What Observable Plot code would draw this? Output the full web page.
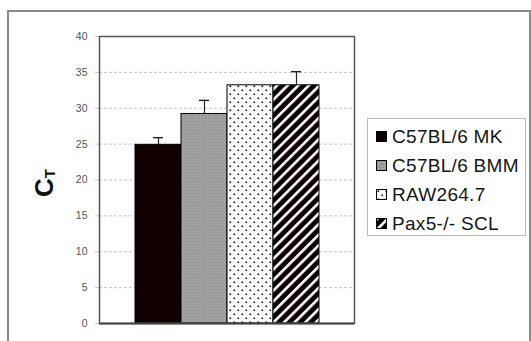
<!DOCTYPE html>
<html>
<head>
<meta charset="utf-8">
<script src="https://cdn.jsdelivr.net/npm/d3@7"></script>
<script src="https://cdn.jsdelivr.net/npm/@observablehq/plot@0.6"></script>
<style>
  html, body { margin: 0; padding: 0; background: #fff; }
  body { width: 531px; height: 341px; position: relative; overflow: hidden; font-family: "Liberation Sans", Arial, sans-serif; }
  #outer { position: absolute; left: 7px; top: 10px; width: 524px; height: 400px; border: 2px solid #8a8a8a; box-sizing: border-box; }
  #chart { position: absolute; left: 0; top: 0; }
  #legend { position: absolute; left: 367px; top: 118px; width: 159px; height: 118px; border: 1px solid #b8b8b8; box-sizing: border-box; padding: 3px 0 0 8px; background: #fff; overflow: hidden; }
  .item { height: 29px; line-height: 29px; font-size: 19px; color: #151515; white-space: nowrap; display: flex; align-items: center; }
  .item svg { width: 11px; height: 11px; margin-right: 5px; flex: none; }
</style>
</head>
<body>
<svg width="0" height="0" style="position:absolute">
  <defs>
    <pattern id="pGray" width="3" height="3" patternUnits="userSpaceOnUse">
      <rect width="3" height="3" fill="#a0a0a0"></rect>
      <rect x="1" y="1" width="1" height="1" fill="#8a8a8a"></rect>
    </pattern>
    <pattern id="pDots" width="8" height="8" patternUnits="userSpaceOnUse">
      <rect width="8" height="8" fill="#fff"></rect>
      <rect x="1.5" y="1.5" width="1.6" height="1.6" fill="#000"></rect>
      <rect x="5.5" y="5.5" width="1.6" height="1.6" fill="#000"></rect>
    </pattern>
    <pattern id="pHatch" width="7.5" height="7.5" patternUnits="userSpaceOnUse" patternTransform="rotate(45)">
      <rect width="7.5" height="7.5" fill="#0d0000"></rect>
      <rect x="0" y="0" width="2.6" height="7.5" fill="#fff"></rect>
    </pattern>
  </defs>
</svg>
<div id="outer"></div>
<div id="chart"></div>
<div id="legend"></div>
<script>
const series = ["C57BL/6 MK", "C57BL/6 BMM", "RAW264.7", "Pax5-/- SCL"];
const values = [24.9, 29.2, 33.2, 33.2];
const errors = [1.0, 1.9, 0, 1.9];
const yTicks = [0, 5, 10, 15, 20, 25, 30, 35, 40];
const fills = ["#110000", "url(#pGray)", "url(#pDots)", "url(#pHatch)"];

const data = series.map((s, i) => ({s, v: values[i], e: errors[i]}));
const errData = data.filter(d => d.e > 0);

const chart = Plot.plot({
  width: 531,
  height: 341,
  marginLeft: 99,
  marginRight: 177,
  marginTop: 36,
  marginBottom: 18,
  style: {background: "transparent", fontFamily: "Liberation Sans, Arial, sans-serif"},
  x: {domain: series, paddingInner: 0, paddingOuter: 0.73, axis: null},
  y: {domain: [0, 40]},
  color: {domain: series, range: fills},
  marks: [
    Plot.ruleY(yTicks.filter(t => t > 0 && t < 40), {stroke: "#c4c4c4", strokeDasharray: "3,2"}),
    Plot.axisY({ticks: yTicks, tickSize: 4, tickPadding: 8, fontSize: 10.5, stroke: "#c4c4c4", fill: "#555", label: null}),
    Plot.ruleX(errData, {x: "s", y1: "v", y2: d => d.v + d.e, stroke: "#222", strokeWidth: 1.2}),
    Plot.tickY(errData, {x: "s", y: d => d.v + d.e, stroke: "#222", strokeWidth: 1.4, insetLeft: 18, insetRight: 18}),
    Plot.barY(data, {x: "s", y: "v", fill: "s", stroke: "#000", strokeWidth: 1}),
    Plot.frame({stroke: "#555", strokeWidth: 1.5}),
    Plot.ruleY([0], {stroke: "#444", strokeWidth: 2})
  ]
});
document.getElementById("chart").appendChild(chart);

// y-axis label C with subscript T
const svg = d3.select(chart);
const lab = svg.append("text")
  .attr("transform", "translate(53,183) rotate(-90)")
  .attr("text-anchor", "middle")
  .attr("font-family", "Liberation Sans, Arial, sans-serif")
  .attr("font-weight", "bold")
  .attr("fill", "#111")
  .attr("font-size", 26);
lab.append("tspan").text("C");
lab.append("tspan").attr("font-size", 15).attr("dy", 2).text("T");

// legend
const legend = d3.select("#legend");
series.forEach((s, i) => {
  const item = legend.append("div").attr("class", "item");
  const sw = item.append("svg").attr("viewBox", "0 0 11 11");
  sw.append("rect").attr("x", 0.5).attr("y", 0.5).attr("width", 10).attr("height", 10)
    .attr("fill", fills[i]).attr("stroke", "#000").attr("stroke-width", 1);
  item.append("span").style("letter-spacing", "0.3px").text(s);
});
</script>
</body>
</html>
